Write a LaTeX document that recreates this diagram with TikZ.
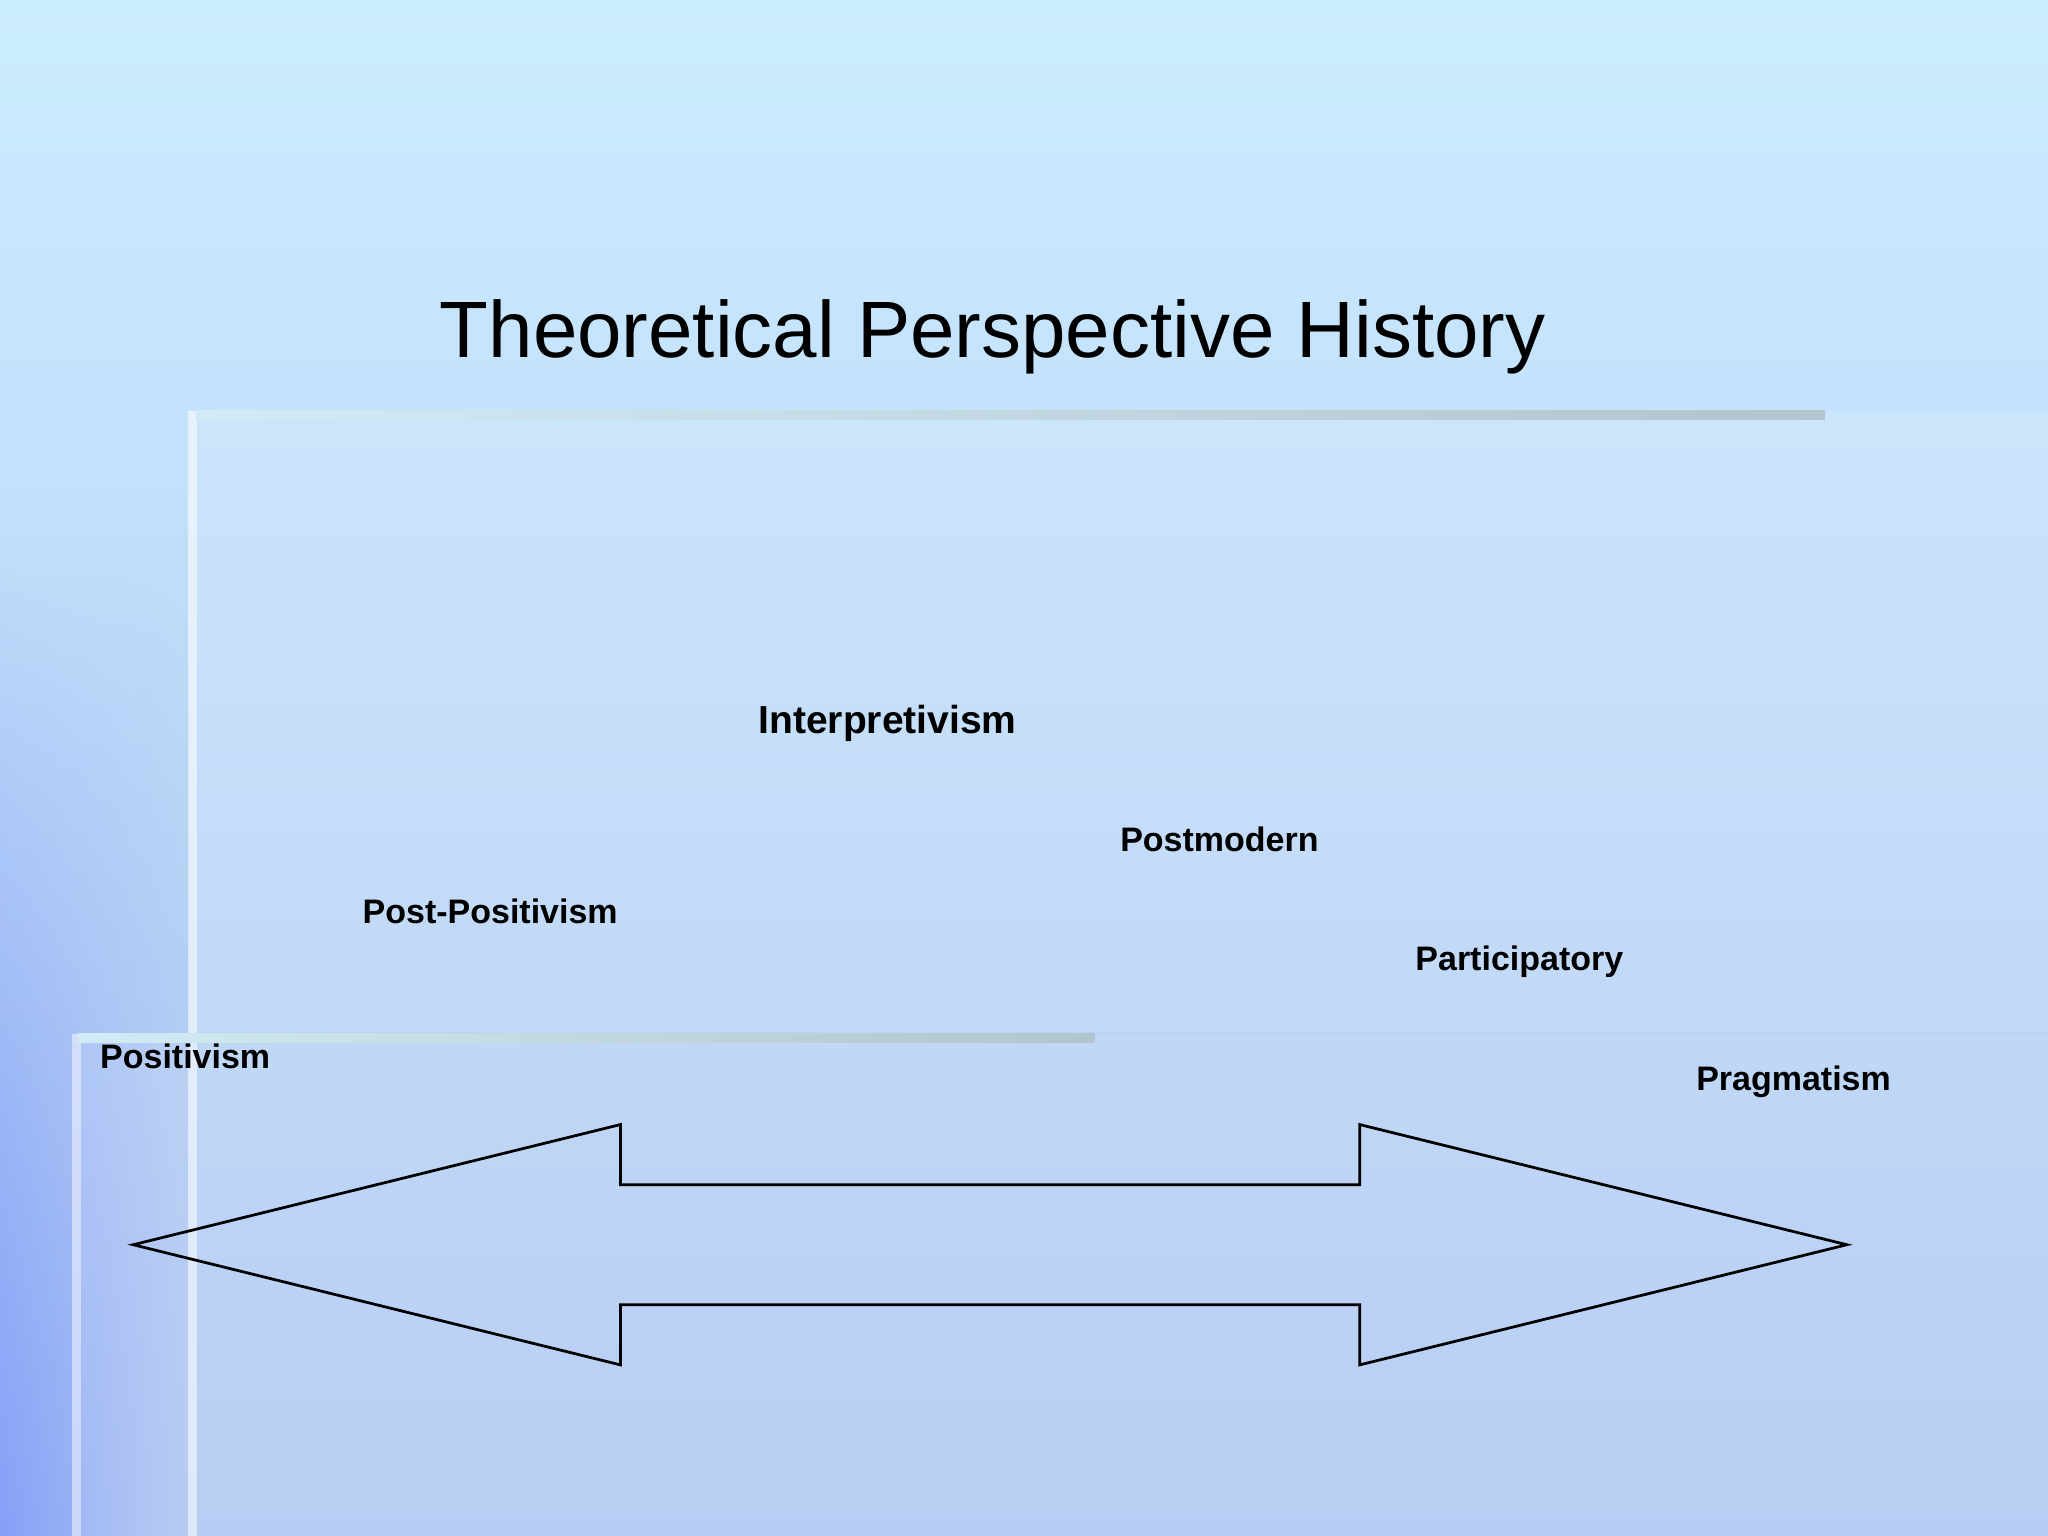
\documentclass[tikz,border=0pt]{standalone}
\usepackage{fontspec}
\setmainfont{Liberation Sans}
\usetikzlibrary{fadings}
\begin{document}
\begin{tikzpicture}[x=0.01cm,y=-0.01cm,
  lbl/.style={font=\fontsize{7.4pt}{9pt}\selectfont\bfseries,anchor=west,inner sep=0}]
\useasboundingbox (0,0) rectangle (1568,1176);
\shade[top color={rgb,255:red,204;green,236;blue,255},bottom color={rgb,255:red,176;green,200;blue,242}] (0,0) rectangle (1568,1176);
\shade[left color={rgb,255:red,135;green,160;blue,248},right color={rgb,255:red,176;green,200;blue,242},path fading=north] (0,400) rectangle (145,1176);
\fill[white,opacity=0.12] (145,315) rectangle (1568,790);
\fill[white,opacity=0.10] (55,792) rectangle (1568,1176);
\fill[white,opacity=0.55] (144,315) rectangle (151,1176);
\fill[white,opacity=0.45] (55,792) rectangle (62,1176);
\shade[left color={rgb,255:red,210;green,235;blue,245},right color={rgb,255:red,178;green,196;blue,205}] (150,314) rectangle (1397,321);
\shade[left color={rgb,255:red,210;green,235;blue,245},right color={rgb,255:red,178;green,196;blue,205}] (60,791) rectangle (838,798);
\node[font=\fontsize{17.4pt}{20pt}\selectfont,anchor=west,inner sep=0] (title) at (336,258) {Theoretical Perspective History};
\node[lbl,font=\fontsize{8.5pt}{10pt}\selectfont\bfseries] (interp) at (580,554) {Interpretivism};
\node[lbl] (postm) at (857,643) {Postmodern};
\node[lbl] (postpos) at (277,698) {Post-Positivism};
\node[lbl] (partic) at (1083,736) {Participatory};
\node[lbl] (posit) at (76,809) {Positivism};
\node[lbl] (pragm) at (1298,828) {Pragmatism};
\draw[line width=0.6pt,line join=miter] (102,953) -- (475,861) -- (475,907) -- (1041,907) -- (1041,861) -- (1414,953) -- (1041,1045) -- (1041,999) -- (475,999) -- (475,1045) -- cycle;
\end{tikzpicture}
\end{document}
